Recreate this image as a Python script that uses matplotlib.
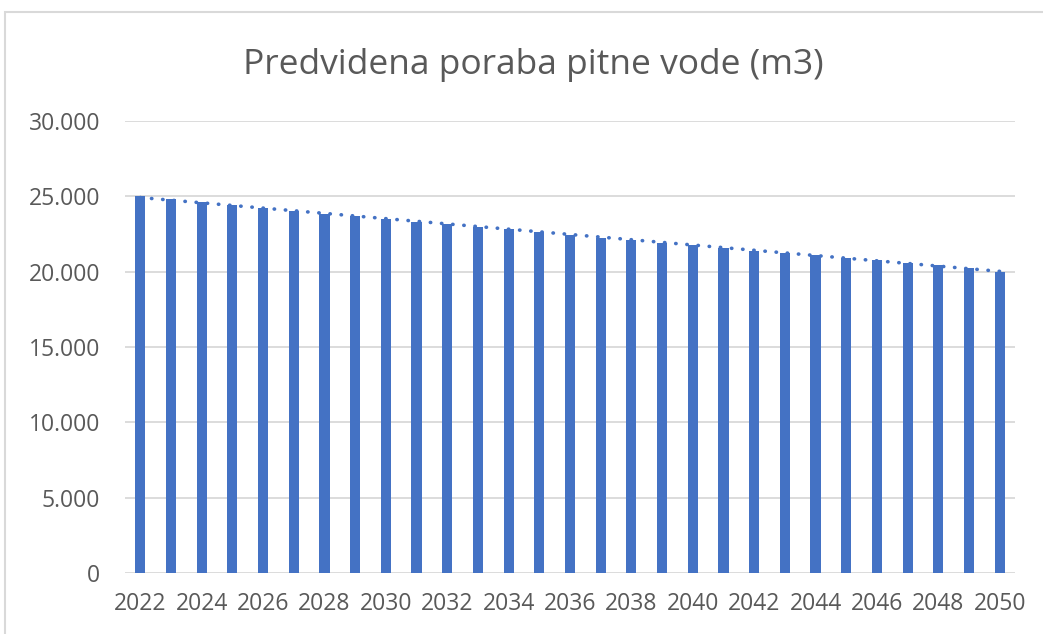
import numpy as np
import matplotlib
matplotlib.use('Agg')
import matplotlib.pyplot as plt
from matplotlib.patches import Rectangle
from matplotlib.ticker import FuncFormatter

# data
years = list(range(2022, 2051))
poraba = [25000, 24800, 24600, 24400, 24250, 24050, 23850, 23700, 23500, 23300,
          23150, 22950, 22800, 22600, 22450, 22250, 22100, 21900, 21750, 21550,
          21400, 21250, 21100, 20900, 20750, 20600, 20450, 20250, 20000]
yticks = [0, 5000, 10000, 15000, 20000, 25000, 30000]

bar_color = '#4472C4'
text_color = '#595959'
grid_color = '#D9D9D9'

plt.rcParams['font.family'] = ['Open Sans', 'DejaVu Sans']

fig = plt.figure(figsize=(10.43, 6.34), dpi=100)
ax = fig.add_axes([125/1043, 1-573/634, 890/1043, 452/634])

x = np.arange(len(years))
ax.bar(x, poraba, width=0.33, color=bar_color, zorder=3)

# linear trend line (dotted, like Excel)
k, n = np.polyfit(x, poraba, 1)
ax.plot(x, k*x + n, linestyle=(0, (0.1, 3.0)), dash_capstyle='round',
        color=bar_color, linewidth=2.6, zorder=4)

ax.set_xlim(-0.5, len(years) - 0.5)
ax.set_ylim(0, 30000)
ax.set_yticks(yticks)
ax.yaxis.set_major_formatter(FuncFormatter(lambda v, p: f'{int(v):,}'.replace(',', '.')))
ax.set_xticks(x[::2])
ax.set_xticklabels([str(y) for y in years[::2]])

ax.grid(axis='y', color=grid_color, linewidth=1.3, zorder=0)
for s in ax.spines.values():
    s.set_visible(False)
ax.tick_params(length=0, labelsize=16.5, colors=text_color)
ax.tick_params(axis='y', pad=18)
ax.tick_params(axis='x', pad=14)

fig.text(533/1043, 1-65/634, 'Predvidena poraba pitne vode (m3)', ha='center', va='center',
         fontsize=25.5, color=text_color)

# chart border
fig.patches.append(Rectangle((5/1043, -0.1), 1.2, 1 - 12/634 + 0.1, transform=fig.transFigure,
                             fill=False, edgecolor=grid_color, linewidth=1.5))

fig.savefig('out.png', dpi=100)
